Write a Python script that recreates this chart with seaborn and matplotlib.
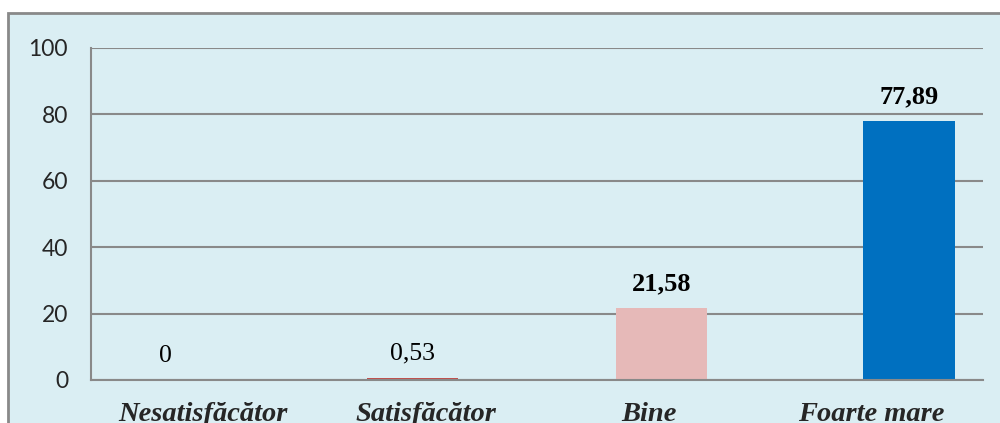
import matplotlib
matplotlib.use('Agg')
import matplotlib.pyplot as plt
import seaborn as sns
from matplotlib.patches import Rectangle

# date din grafic
categorii = ['Nesatisfăcător', 'Satisfăcător', 'Bine', 'Foarte mare']
valori = [0, 0.53, 21.58, 77.89]
etichete = ['0', '0,53', '21,58', '77,89']
etichete_bold = [False, False, True, True]
culori = ['#4F81BD', '#C0504D', '#E6B9B8', '#0070C0']
y_ticks = [0, 20, 40, 60, 80, 100]

gri = '#898989'
fundal = '#DAEEF3'

sns.set_style('white')
fig = plt.figure(figsize=(10, 4.23), dpi=100)

# fundalul albastru cu chenar gri
fig.patches.append(Rectangle((0.008, -0.1), 1.1, 1.0693, transform=fig.transFigure,
                             facecolor=fundal, edgecolor=gri, linewidth=2, zorder=-10))

ax = fig.add_axes([0.091, 0.1017, 0.892, 0.7849])
ax.set_facecolor('none')

sns.barplot(x=categorii, y=valori, hue=categorii, palette=culori, width=0.41,
            legend=False, ax=ax, zorder=3, saturation=1)

# decalajul barelor ca in Excel
decalaje = [-0.168, -0.058, 0.058, 0.168]
for i, p in enumerate(ax.patches):
    p.set_x(p.get_x() + decalaje[i])
    p.set_linewidth(0)
    x_c = p.get_x() + p.get_width() / 2
    ax.annotate(etichete[i], (x_c, valori[i]), xytext=(0, 17.5), textcoords='offset points',
                ha='center', va='center', family='Liberation Serif',
                fontsize=19 if etichete_bold[i] else 18.5,
                fontweight='bold' if etichete_bold[i] else 'normal', color='black')

ax.set_xlim(-0.5, 3.5)
ax.set_ylim(0, 100)
ax.set_yticks(y_ticks)
ax.set_yticklabels([str(v) for v in y_ticks], fontsize=16.5, family='Lato')
ax.yaxis.grid(True, color=gri, linewidth=1.5, zorder=0)
ax.set_axisbelow(True)

ax.set_xticks(range(len(categorii)))
ax.set_xticklabels(categorii, fontsize=20.5, family='Liberation Serif', fontweight='bold',
                   style='italic')
ax.set_xticks([-0.5, 0.5, 1.5, 2.5, 3.5], minor=True)
ax.tick_params(axis='x', which='major', length=0, pad=16)
ax.tick_params(axis='x', which='minor', length=5.5, width=1.5, color=gri, direction='out')
ax.tick_params(axis='y', length=6.5, width=1.5, color=gri, direction='out', pad=10)

for s in ['top', 'right']:
    ax.spines[s].set_visible(False)
for s in ['left', 'bottom']:
    ax.spines[s].set_color(gri)
    ax.spines[s].set_linewidth(1.5)
    ax.spines[s].set_zorder(4)

ax.set_xlabel('')
ax.set_ylabel('')

plt.savefig('out.png', dpi=100)
plt.close()
